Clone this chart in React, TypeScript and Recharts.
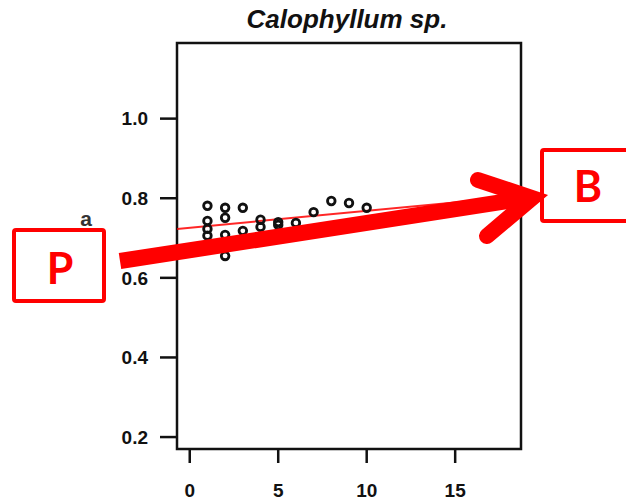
import React from "react"
import { ComposedChart, Scatter, Line, XAxis, YAxis, ReferenceArea } from "recharts"

const plotX = [1, 1, 1, 1, 2, 2, 2, 2, 3, 3, 4, 4, 5, 5, 6, 7, 8, 9, 10]
const plotY = [0.781, 0.743, 0.723, 0.706, 0.776, 0.751, 0.708, 0.655, 0.776, 0.718, 0.746, 0.728, 0.74, 0.733, 0.738, 0.765, 0.793, 0.788, 0.776]

// fitted line end points
const fitX = [-0.72, 18.72]
const fitY = [0.723, 0.805]

const xTicks = [0, 5, 10, 15]
const yTicks = [0.2, 0.4, 0.6, 0.8, 1.0]
const xDomain: [number, number] = [-0.72, 18.72]
const yDomain: [number, number] = [0.17, 1.19]

const title = "Calophyllum sp."

const points = plotX.map((x, i) => ({ x, y: plotY[i] }))
const fit = fitX.map((x, i) => ({ x, y: fitY[i] }))

const ink = "#111"
const red = "#ff0000"
const tickFont = { fill: ink, fontSize: 19, fontWeight: "bold", fontFamily: "'Liberation Sans', Arial, sans-serif" } as any

const OpenDot = (p: any) => {
  if (p.cx == null || p.cy == null) return null
  return <circle cx={p.cx} cy={p.cy} r={3.8} fill="none" stroke={ink} strokeWidth={2.8} />
}

export default function App() {
  return (
    <div style={{ position: "absolute", left: 0, top: 0, width: 626, height: 503, background: "#fff" }}>
      <ComposedChart width={626} height={503} margin={{ top: 43, right: 105, left: 117, bottom: 14 }}>
        <XAxis
          type="number"
          dataKey="x"
          domain={xDomain}
          ticks={xTicks}
          allowDataOverflow
          axisLine={false}
          tickLine={{ stroke: ink, strokeWidth: 2.5 }}
          tickSize={14}
          tickMargin={21}
          height={40}
          tick={tickFont}
        />
        <YAxis
          type="number"
          dataKey="y"
          domain={yDomain}
          ticks={yTicks}
          allowDataOverflow
          axisLine={false}
          tickLine={{ stroke: ink, strokeWidth: 2.5 }}
          tickSize={17}
          tickMargin={12}
          width={60}
          tick={tickFont}
          tickFormatter={(v) => Number(v).toFixed(1)}
        />
        <ReferenceArea x1={xDomain[0]} x2={xDomain[1]} y1={yDomain[0]} y2={yDomain[1]} fill="none" fillOpacity={0} stroke={ink} strokeWidth={2.5} ifOverflow="visible" />
        <Scatter data={points} dataKey="y" shape={OpenDot} isAnimationActive={false} />
        <Line data={fit} dataKey="y" type="linear" stroke={red} strokeOpacity={0.85} strokeWidth={2} dot={false} activeDot={false} isAnimationActive={false} />
      </ComposedChart>

      {/* title + annotation overlay */}
      <svg width={626} height={503} style={{ position: "absolute", left: 0, top: 0, pointerEvents: "none" }}>
        <text x={347} y={28} textAnchor="middle" fill={ink} fontSize={26} fontStyle="italic" fontWeight="bold" fontFamily="'Liberation Sans', Arial, sans-serif">
          {title}
        </text>
        <text x={86} y={226} textAnchor="middle" fill="#333" fontSize={21} fontWeight="bold" fontFamily="'Liberation Sans', Arial, sans-serif">
          a
        </text>
        <rect x={14} y={230} width={90} height={71} rx={2} fill="#fff" stroke={red} strokeWidth={4} />
        <text x={60} y={284} textAnchor="middle" fill={red} fontSize={43} fontWeight="bold" fontFamily="Lato, 'Open Sans', sans-serif">
          P
        </text>
        <rect x={542} y={150} width={100} height={71} rx={2} fill="#fff" stroke={red} strokeWidth={4} />
        <text x={588} y={202} textAnchor="middle" fill={red} fontSize={43} fontWeight="bold" fontFamily="Lato, 'Open Sans', sans-serif">
          B
        </text>
        <line x1={120} y1={261} x2={528} y2={198} stroke={red} strokeWidth={16} />
        <polyline points="478,180 532,198 487,236" fill="none" stroke={red} strokeWidth={16} strokeLinecap="round" strokeLinejoin="miter" />
      </svg>
    </div>
  )
}
